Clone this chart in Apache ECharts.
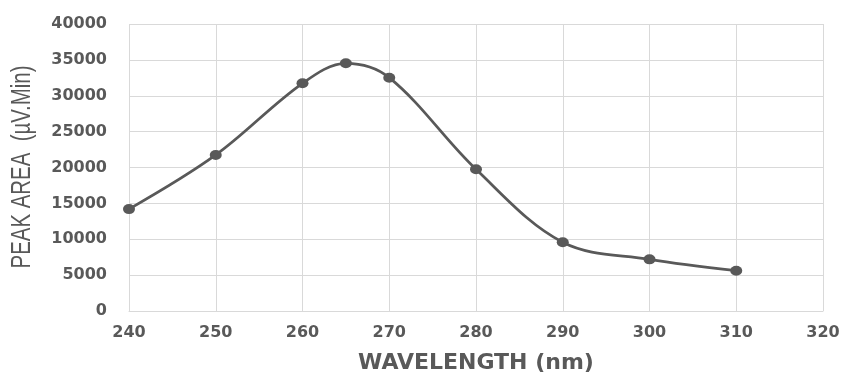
<!DOCTYPE html>
<html><head><meta charset="utf-8">
<script src="https://cdn.jsdelivr.net/npm/echarts@6/dist/echarts.min.js"></script>
<style>html,body{margin:0;padding:0;background:#fff}#c{width:841px;height:376px}</style>
</head><body><div id="c"></div>
<script>
var wavelengths = [240, 250, 260, 265, 270, 280, 290, 300, 310];
var peakArea = [14200, 21750, 31730, 34520, 32520, 19750, 9580, 7200, 5620];
var xTitle = 'WAVELENGTH (nm)';
var yTitle = 'PEAK AREA  (\u00b5V.Min)';

var chart = echarts.init(document.getElementById('c'), null, {renderer: 'canvas'});
var txt = '#595959';
chart.setOption({
  animation: false,
  grid: {left: 129, right: 18, top: 24, bottom: 65, containLabel: false, outerBoundsMode: 'none'},
  graphic: [{
    type: 'text',
    x: 22, y: 167,
    rotation: Math.PI / 2,
    scaleX: 0.73,
    style: {
      text: yTitle,
      font: '28px "Liberation Sans", Arial, sans-serif',
      fill: txt,
      align: 'center',
      verticalAlign: 'middle'
    }
  }],
  xAxis: {
    type: 'value', min: 240, max: 320, interval: 10,
    name: xTitle, nameLocation: 'middle', nameGap: 41,
    nameTextStyle: {color: txt, fontSize: 22, fontWeight: 'bold', fontFamily: 'DejaVu Sans'},
    axisLine: {show: true, lineStyle: {color: '#d9d9d9', width: 1}},
    axisTick: {show: false},
    axisLabel: {color: txt, fontSize: 16, fontWeight: 'bold', fontFamily: 'DejaVu Sans', margin: 14,
      formatter: function (v) { return String(v); }},
    splitLine: {show: true, lineStyle: {color: '#d9d9d9', width: 1}}
  },
  yAxis: {
    type: 'value', min: 0, max: 40000, interval: 5000,
    axisLine: {show: false},
    axisTick: {show: false},
    axisLabel: {color: txt, fontSize: 16, fontWeight: 'bold', fontFamily: 'DejaVu Sans', margin: 22,
      formatter: function (v) { return String(v); }},
    splitLine: {show: true, lineStyle: {color: '#d9d9d9', width: 1}}
  },
  series: [{
    type: 'line',
    data: wavelengths.map(function (w, i) { return [w, peakArea[i]]; }),
    smooth: 0.35,
    symbol: 'circle', symbolSize: [12, 10],
    lineStyle: {color: '#595959', width: 2.75},
    itemStyle: {color: '#595959'}
  }]
});
</script></body></html>
